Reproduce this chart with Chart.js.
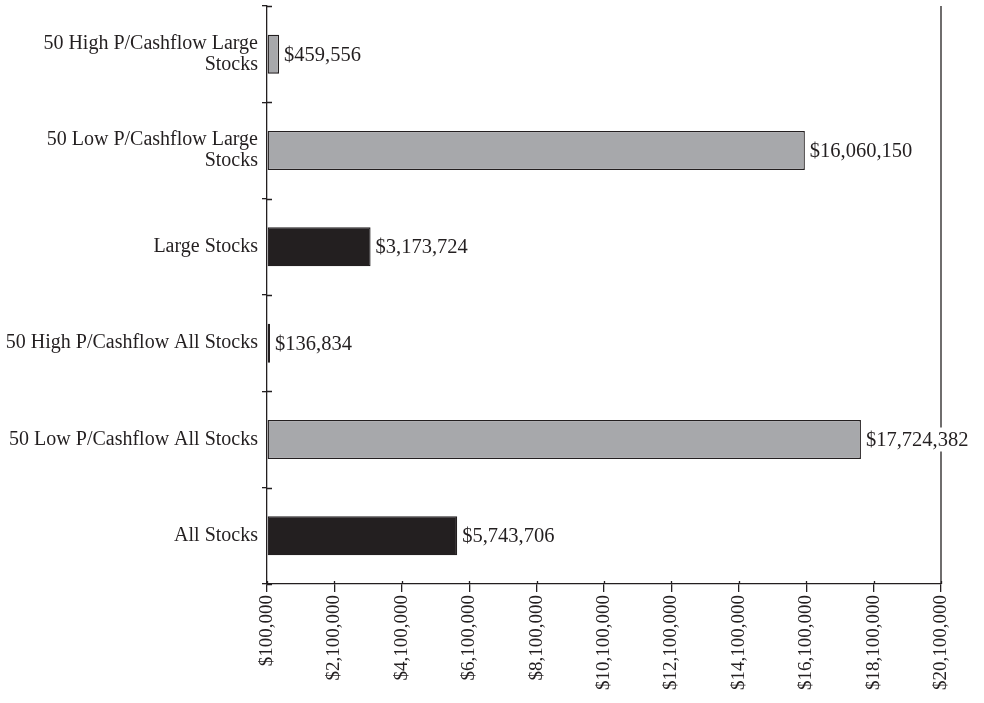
<!DOCTYPE html>
<html>
<head>
<meta charset="utf-8">
<script src="https://cdn.jsdelivr.net/npm/chart.js@4/dist/chart.umd.min.js"></script>
<style>
html,body{margin:0;padding:0;background:#fff;}
canvas{display:block;}
</style>
</head>
<body>
<canvas id="c" width="984" height="703"></canvas>
<script>
const categories = [
  ["50 High P/Cashflow Large", "Stocks"],
  ["50 Low P/Cashflow Large", "Stocks"],
  "Large Stocks",
  "50 High P/Cashflow All Stocks",
  "50 Low P/Cashflow All Stocks",
  "All Stocks"
];
const values = [459556, 16060150, 3173724, 136834, 17724382, 5743706];
const barColors = ["#a7a8ab", "#a7a8ab", "#231f20", "#231f20", "#a7a8ab", "#231f20"];
const xTickValues = [100000, 2100000, 4100000, 6100000, 8100000, 10100000, 12100000, 14100000, 16100000, 18100000, 20100000];
const xMin = 100000, xMax = 20100000;

const INK = "#231f20";
const FONT = "'Liberation Serif', 'Times New Roman', serif";
const fmt = v => "$" + v.toLocaleString("en-US");

const decor = {
  id: "decor",
  beforeDatasetsDraw(chart) {
    const {ctx, chartArea: a} = chart;
    ctx.save();
    ctx.strokeStyle = INK;
    ctx.lineWidth = 1.3;
    ctx.beginPath();
    ctx.moveTo(a.right, a.top);
    ctx.lineTo(a.right, a.bottom);
    ctx.stroke();
    const ys = chart.scales.y;
    ctx.beginPath();
    for (let i = 0; i <= categories.length; i++) {
      const y = Math.round(ys.getPixelForValue(i - 0.5)) + 0.5;
      ctx.moveTo(a.left, y);
      ctx.lineTo(a.left + 5, y);
    }
    const xs = chart.scales.x;
    xTickValues.forEach(v => {
      const x = Math.round(xs.getPixelForValue(v)) + 0.5;
      ctx.moveTo(x, a.bottom);
      ctx.lineTo(x, a.bottom - 3);
    });
    ctx.stroke();
    ctx.restore();
  },
  afterDatasetsDraw(chart) {
    const {ctx} = chart;
    const meta = chart.getDatasetMeta(0);
    ctx.save();
    ctx.font = "20.5px " + FONT;
    ctx.textBaseline = "middle";
    ctx.textAlign = "left";
    meta.data.forEach((bar, i) => {
      const t = fmt(values[i]);
      const x = bar.x + 5;
      const w = ctx.measureText(t).width;
      ctx.fillStyle = "#fff";
      ctx.fillRect(x - 2, bar.y - 12, w + 4, 24);
      ctx.fillStyle = INK;
      ctx.fillText(t, x, bar.y + 1);
    });
    ctx.restore();
  }
};

new Chart(document.getElementById("c"), {
  type: "bar",
  data: {
    labels: categories,
    datasets: [{
      data: values,
      base: xMin,
      backgroundColor: barColors,
      borderColor: INK,
      borderWidth: 1.3,
      borderSkipped: false,
      minBarLength: 3,
      categoryPercentage: 1,
      barPercentage: 0.405
    }]
  },
  options: {
    indexAxis: "y",
    responsive: false,
    devicePixelRatio: 1,
    animation: false,
    layout: {padding: {left: 0, right: 43, top: 6, bottom: 0}},
    plugins: {legend: {display: false}, tooltip: {enabled: false}},
    scales: {
      x: {
        type: "linear",
        min: xMin,
        max: xMax,
        afterBuildTicks(scale) { scale.ticks = xTickValues.map(v => ({value: v})); },
        afterFit(scale) { scale.height = 119; scale.paddingLeft = 0; scale.paddingRight = 0; },
        border: {display: true, color: INK, width: 1.3},
        grid: {display: true, drawOnChartArea: false, drawTicks: true, tickLength: 8, color: INK, lineWidth: 1.3},
        ticks: {
          color: INK,
          font: {family: FONT, size: 19},
          minRotation: 90,
          maxRotation: 90,
          padding: 3,
          autoSkip: false,
          callback: v => fmt(v)
        }
      },
      y: {
        afterFit(scale) { scale.width = 267; scale.paddingTop = 0; scale.paddingBottom = 0; },
        border: {display: true, color: INK, width: 1.3},
        grid: {display: true, drawOnChartArea: false, drawTicks: true, tickLength: 5, color: INK, lineWidth: 1.3, offset: true},
        ticks: {
          color: INK,
          font: {family: FONT, size: 20, lineHeight: 1.05},
          padding: 4,
          autoSkip: false
        }
      }
    }
  },
  plugins: [decor]
});
</script>
</body>
</html>
